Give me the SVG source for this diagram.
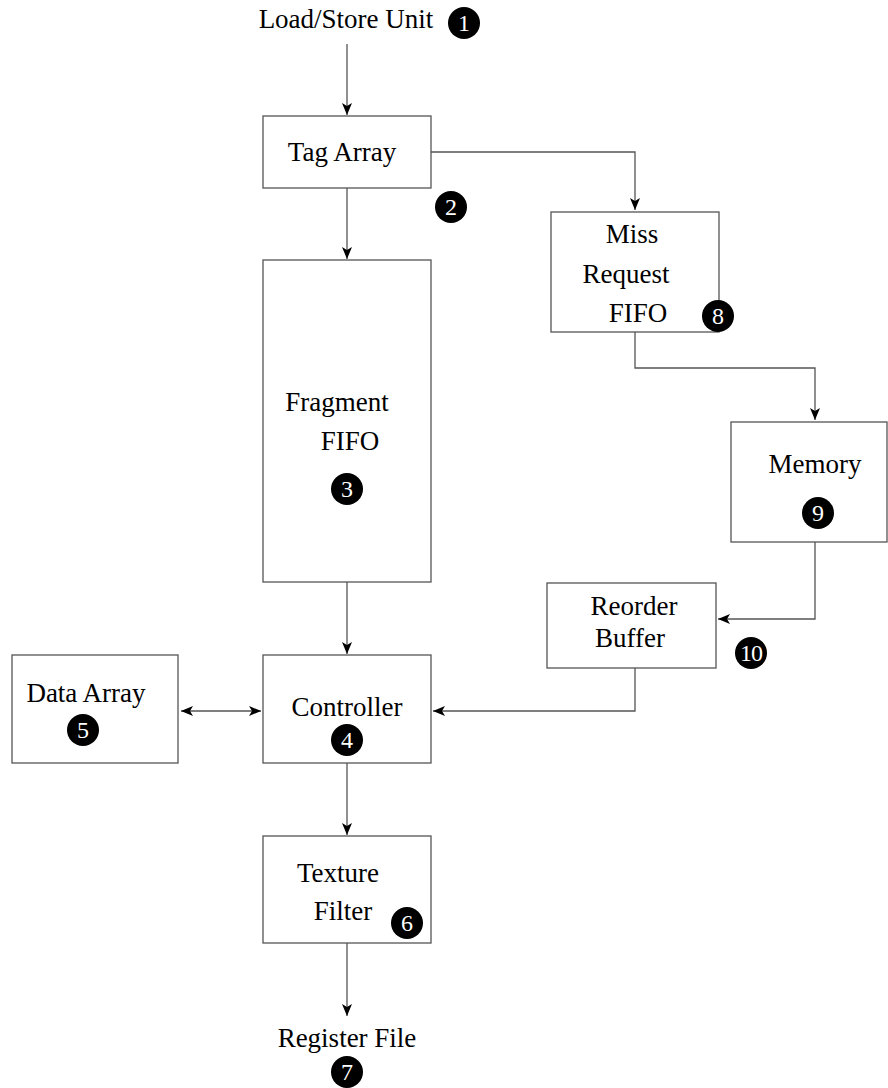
<svg xmlns="http://www.w3.org/2000/svg" width="888" height="1088" viewBox="0 0 888 1088">
<defs>
<style>
.box{fill:#fff;stroke:#555;stroke-width:1.3}
.lbl{font-family:"Liberation Serif","Times New Roman",serif;font-size:27px;fill:#000;text-anchor:middle}
.num{font-family:"Liberation Serif","Times New Roman",serif;font-size:24px;fill:#fff;text-anchor:middle}
.dot{fill:#000}
.con{fill:none;stroke:#555;stroke-width:1.3}
</style>
<marker id="ah" viewBox="0 0 12 10" refX="12" refY="5" markerWidth="12" markerHeight="10" markerUnits="userSpaceOnUse" orient="auto-start-reverse">
<path d="M0,0 L12,5 L0,10 L3,5 Z" fill="#000"/>
</marker>
</defs>
<rect width="888" height="1088" fill="#fff"/>
<g id="connectors">
<path class="con" d="M347,44 V115" marker-end="url(#ah)"/>
<path class="con" d="M431,152 H635 V210" marker-end="url(#ah)"/>
<path class="con" d="M347,188 V259" marker-end="url(#ah)"/>
<path class="con" d="M635,332 V368 H815 V420" marker-end="url(#ah)"/>
<path class="con" d="M815,542 V619 H718" marker-end="url(#ah)"/>
<path class="con" d="M635,668 V711 H433" marker-end="url(#ah)"/>
<path class="con" d="M347,582 V654" marker-end="url(#ah)"/>
<path class="con" d="M181,711 H261" marker-start="url(#ah)" marker-end="url(#ah)"/>
<path class="con" d="M347,763 V835" marker-end="url(#ah)"/>
<path class="con" d="M347,943 V1016" marker-end="url(#ah)"/>
</g>
<g id="load-store">
<text class="lbl" x="346" y="28">Load/Store Unit</text>
<circle class="dot" cx="464" cy="23" r="16"/><text class="num" x="464" y="31">1</text>
</g>
<g id="tag-array">
<rect class="box" x="263" y="116" width="168" height="72"/>
<text class="lbl" x="342" y="161">Tag Array</text>
<circle class="dot" cx="451" cy="207" r="16"/><text class="num" x="451" y="215">2</text>
</g>
<g id="miss-request-fifo">
<rect class="box" x="551" y="212" width="168" height="120"/>
<text class="lbl" x="632" y="243">Miss</text>
<text class="lbl" x="626" y="283">Request</text>
<text class="lbl" x="638" y="322">FIFO</text>
<circle class="dot" cx="718" cy="316" r="16"/><text class="num" x="718" y="324">8</text>
</g>
<g id="fragment-fifo">
<rect class="box" x="263" y="260" width="168" height="322"/>
<text class="lbl" x="337" y="411">Fragment</text>
<text class="lbl" x="350" y="450">FIFO</text>
<circle class="dot" cx="347" cy="489" r="16"/><text class="num" x="347" y="497">3</text>
</g>
<g id="memory">
<rect class="box" x="731" y="422" width="156" height="120"/>
<text class="lbl" x="815" y="473">Memory</text>
<circle class="dot" cx="818" cy="513" r="16"/><text class="num" x="818" y="521">9</text>
</g>
<g id="reorder-buffer">
<rect class="box" x="547" y="583" width="169" height="85"/>
<text class="lbl" x="634" y="615">Reorder</text>
<text class="lbl" x="630" y="647">Buffer</text>
<circle class="dot" cx="751" cy="653" r="16"/><text class="num" x="751" y="661" font-size="21" letter-spacing="-1">10</text>
</g>
<g id="data-array">
<rect class="box" x="12" y="655" width="166" height="108"/>
<text class="lbl" x="86" y="702">Data Array</text>
<circle class="dot" cx="83" cy="730" r="16"/><text class="num" x="83" y="738">5</text>
</g>
<g id="controller">
<rect class="box" x="263" y="655" width="168" height="108"/>
<text class="lbl" x="347" y="716">Controller</text>
<circle class="dot" cx="347" cy="740" r="16"/><text class="num" x="347" y="748">4</text>
</g>
<g id="texture-filter">
<rect class="box" x="263" y="836" width="168" height="107"/>
<text class="lbl" x="338" y="882">Texture</text>
<text class="lbl" x="343" y="920">Filter</text>
<circle class="dot" cx="407" cy="923" r="16"/><text class="num" x="407" y="931">6</text>
</g>
<g id="register-file">
<text class="lbl" x="347" y="1047">Register File</text>
<circle class="dot" cx="347" cy="1072" r="16"/><text class="num" x="347" y="1080">7</text>
</g>
</svg>
